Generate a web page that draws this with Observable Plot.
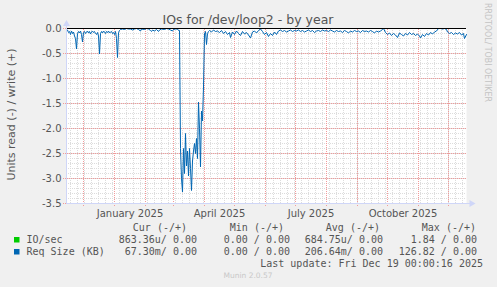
<!DOCTYPE html>
<html><head><meta charset="utf-8">
<script src="https://cdn.jsdelivr.net/npm/d3@7"></script>
<script src="https://cdn.jsdelivr.net/npm/@observablehq/plot@0.6"></script>
<style>
html,body{margin:0;padding:0;background:#F0F0F0;}
#wrap{position:relative;width:497px;height:287px;background:#F0F0F0;overflow:hidden;}
#wrap svg{position:absolute;left:0;top:0;}
</style></head><body><div id="wrap"></div>
<script>
// ---- data (read values of Req Size, days after 2024-11-14) ----
const readDays = [
  0,1,2,3,4,5,6,7,8,9,10,11,12,13,14,15,16,17,18,19,20,21,22,23,24,25,26,27,28,29,
  30,31,32,33,34,35,36,37,38,39,40,41,42,43,44,45,46,47,48,49,50,51,52,53,54,
  56,58,60,62,64,66,68,70,72,74,75,78,80,82,84,85,86,88,90,92,93,95,98,100,102,104,106,107,109,111,112,
  113,114,115,116,117,118,119,120,121,122,123,124,125,126,127,128,129,130,131,132,133,134,135,136,137,138,139,140,141,142,
  143,145,147,149,151,153,155,157,159,161,163,164,166,168,170,172,174,176,178,180,182,184,186,188,190,192,194,196,198,200,
  202,204,206,208,210,212,214,216,218,220,222,224,226,228,230,232,234,236,238,240,242,244,246,248,250,252,254,256,258,260,
  262,264,266,268,270,272,274,
  276,278,280,282,284,286,288,290,292,294,296,298,300,302,304,306,308,310,312,314,316,317,319,321,323,325,327,329,331,333,
  335,337,339,341,343,345,347,349,351,353,354,356,358,360,362,364,366,368,370,372,374,376,378,380,381,383,385,387,389,391,
  393,395,397,398,400
];
const readValues = [
  -0.05,-0.03,-0.08,-0.06,-0.12,-0.05,-0.10,-0.07,-0.15,-0.20,-0.41,-0.10,-0.06,-0.09,-0.05,-0.12,-0.27,-0.08,-0.06,-0.10,
  -0.07,-0.05,-0.09,-0.06,-0.11,-0.07,-0.05,-0.08,-0.06,-0.10,-0.12,-0.08,-0.15,-0.51,-0.10,-0.06,-0.09,-0.05,-0.07,-0.10,
  -0.06,-0.08,-0.05,-0.09,-0.07,-0.06,-0.10,-0.08,-0.12,-0.06,-0.20,-0.58,-0.08,-0.04,-0.02,
  -0.01,-0.02,0,-0.01,-0.01,-0.03,-0.01,0,-0.02,-0.05,-0.01,-0.02,0,-0.01,-0.04,-0.06,-0.03,-0.05,-0.02,-0.06,-0.03,-0.01,
  -0.02,0,-0.01,-0.03,-0.05,-0.02,-0.01,-0.01,-0.04,
  -0.04,-2.4,-3.0,-3.27,-2.4,-2.9,-2.1,-2.75,-2.45,-2.95,-2.4,-2.8,-3.24,-2.65,-2.45,-2.3,-2.5,-2.2,-2.6,-1.47,-2.0,-2.77,
  -1.65,-1.85,-1.17,-0.11,-0.06,-0.32,-0.10,-0.06,
  -0.04,-0.07,-0.03,-0.06,-0.05,-0.08,-0.04,-0.10,-0.06,-0.12,-0.08,-0.18,-0.07,-0.12,-0.05,-0.10,-0.14,-0.06,-0.11,-0.08,
  -0.13,-0.19,-0.07,-0.05,-0.09,-0.04,-0.01,-0.06,-0.12,-0.08,-0.16,-0.10,-0.14,-0.07,-0.12,-0.05,-0.03,-0.06,-0.04,-0.07,
  -0.05,-0.03,-0.06,-0.04,-0.05,-0.03,-0.06,-0.04,-0.07,-0.05,-0.03,-0.06,-0.04,-0.08,-0.05,-0.04,-0.06,-0.03,-0.05,-0.04,
  -0.06,-0.03,-0.05,-0.07,-0.04,-0.06,-0.05,
  -0.08,-0.04,-0.06,-0.09,-0.05,-0.07,-0.04,-0.06,-0.05,-0.08,-0.04,-0.06,-0.05,-0.07,-0.04,-0.06,-0.09,-0.05,-0.07,-0.05,
  -0.02,0,-0.08,-0.12,-0.09,-0.14,-0.10,-0.13,-0.18,-0.09,-0.12,-0.15,-0.10,-0.13,-0.08,-0.12,-0.10,-0.14,-0.11,-0.15,
  -0.19,-0.12,-0.16,-0.10,-0.13,-0.08,-0.11,-0.07,-0.05,0,0,-0.01,0,-0.02,-0.07,-0.10,-0.08,-0.12,-0.09,-0.11,
  -0.08,-0.13,-0.10,-0.20,-0.12
];
const yTicks = [0, -0.5, -1.0, -1.5, -2.0, -2.5, -3.0, -3.5];
const xLabelMonths = ["2025-01", "2025-04", "2025-07", "2025-10"];
const xLabels = ["January 2025", "April 2025", "July 2025", "October 2025"];
const titleText = "IOs for /dev/loop2 - by year";
const yLabelText = "Units read (-) / write (+)";
const legendNames = ["IO/sec", "Req Size (KB)"];
const legendColors = ["#00CC00", "#0066B3"];
const legendHeaders = ["Cur (-/+)", "Min (-/+)", "Avg (-/+)", "Max (-/+)"];
const legendCur = ["863.36u/ 0.00", "67.30m/ 0.00"];
const legendMin = ["0.00 / 0.00", "0.00 / 0.00"];
const legendAvg = ["684.75u/ 0.00", "206.64m/ 0.00"];
const legendMax = ["1.84 / 0.00", "126.82 / 0.00"];
const lastUpdate = "Last update: Fri Dec 19 00:00:16 2025";
const footer = "Munin 2.0.57";
const watermark = "RRDTOOL/ TOBI OETIKER";

// ---- scales / helpers ----
const start = new Date(Date.UTC(2024, 10, 14));
const end = d3.utcDay.offset(start, 400);
const data = readDays.map((d, i) => ({date: d3.utcDay.offset(start, d), value: readValues[i]}));
const months = d3.utcMonth.range(d3.utcDay.offset(start, 1), end);
const weeks = d3.utcMonday.range(start, end);
const minorY = d3.range(-35, 1).map(v => v / 10);
const labelDates = xLabelMonths.map(m => {
  const a = new Date(m + "-01T00:00:00Z"), b = d3.utcMonth.offset(a, 1);
  return new Date((+a + +b) / 2);
});
const axisCol = "#CFD6F8", mgrid = "#F29A9A", grid = "#dcdcdc";

const chart = Plot.plot({
  width: 497, height: 222,
  marginLeft: 66, marginRight: 31, marginTop: 28, marginBottom: 19,
  style: {background: "transparent", fontFamily: "DejaVu Sans", fontSize: "10px", color: "#555", overflow: "visible"},
  x: {type: "utc", domain: [start, end]},
  y: {domain: [-3.5, 0]},
  marks: [
    Plot.frame({fill: "white", stroke: null}),
    Plot.ruleY(minorY, {stroke: grid, strokeDasharray: "1,1"}),
    Plot.ruleX(weeks, {stroke: grid, strokeDasharray: "1,1"}),
    Plot.ruleY(yTicks, {x1: d3.utcDay.offset(start, -3), x2: end, stroke: mgrid, strokeDasharray: "1,1", clip: false}),
    Plot.ruleX(months, {y1: -3.56, y2: 0, stroke: mgrid, strokeDasharray: "1,1"}),
    Plot.line(data, {x: "date", y: "value", stroke: "#0066B3", strokeWidth: 1}),
    Plot.ruleY([0], {stroke: "black"}),
    Plot.ruleX([start], {y1: -3.5, y2: 0.13, stroke: axisCol}),
    Plot.ruleY([-3.5], {x1: start, x2: d3.utcDay.offset(start, 404), stroke: axisCol}),
    Plot.dot([start], {x: d => d, y: 0.09, symbol: "triangle", r: 2.6, fill: axisCol}),
    Plot.dot([d3.utcDay.offset(start, 405)], {x: d => d, y: -3.5, symbol: "triangle", r: 2.6, fill: axisCol, rotate: 90}),
    Plot.axisY({ticks: yTicks, tickFormat: d => d.toFixed(1), tickSize: 0, tickPadding: 5, label: null}),
    Plot.axisX({ticks: labelDates, tickFormat: (d, i) => xLabels[i], tickSize: 0, tickPadding: 6, label: null})
  ]
});
const wrap = document.getElementById("wrap");
wrap.appendChild(chart);

// ---- overlay texts: title, y label, watermark, legend ----
const svg = d3.select(wrap).append("svg").attr("width", 497).attr("height", 287)
  .style("pointer-events", "none");
svg.append("text").attr("x", 248).attr("y", 24).attr("text-anchor", "middle")
  .attr("font-family", "DejaVu Sans").attr("font-size", 12.5).attr("fill", "#555").text(titleText);
svg.append("text").attr("transform", "translate(15,114.5) rotate(-90)").attr("text-anchor", "middle")
  .attr("font-family", "DejaVu Sans").attr("font-size", 11).attr("fill", "#555").text(yLabelText);
svg.append("text").attr("transform", "translate(485,3) rotate(90)").attr("text-anchor", "start")
  .attr("font-family", "DejaVu Sans").attr("font-size", 8).attr("fill", "#c4c4c4")
  .attr("textLength", 99).attr("lengthAdjust", "spacingAndGlyphs").text(watermark);

const mono = g => g.attr("font-family", "DejaVu Sans Mono").attr("font-size", 10).attr("fill", "#555");
const headerRight = [187, 284, 380, 476];
const colRight = [197, 290, 383, 477];
legendHeaders.forEach((h, i) => {
  svg.append("text").call(mono).attr("x", headerRight[i]).attr("y", 230.5).attr("text-anchor", "end").text(h);
});
const cols = [legendCur, legendMin, legendAvg, legendMax];
legendNames.forEach((n, r) => {
  const y = 242.5 + r * 12;
  svg.append("rect").attr("x", 14).attr("y", y - 5.5).attr("width", 5.5).attr("height", 5.5).attr("fill", legendColors[r]);
  svg.append("text").call(mono).attr("x", 26.5).attr("y", y).text(n);
  cols.forEach((c, i) => {
    svg.append("text").call(mono).attr("x", colRight[i]).attr("y", y).attr("text-anchor", "end").text(c[r]);
  });
});
svg.append("text").call(mono).attr("x", 483).attr("y", 266.5).attr("text-anchor", "end").text(lastUpdate);
svg.append("text").attr("x", 248).attr("y", 278.3).attr("text-anchor", "middle")
  .attr("font-family", "DejaVu Sans").attr("font-size", 7.5).attr("fill", "#c8c8c8").text(footer);
</script></body></html>
